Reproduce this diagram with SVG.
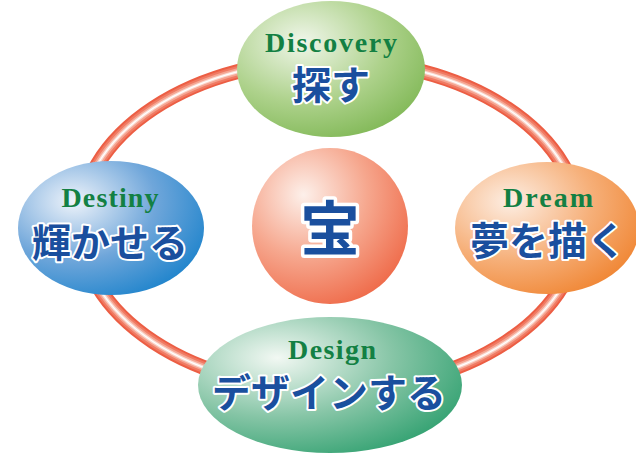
<svg xmlns="http://www.w3.org/2000/svg" width="636" height="455" viewBox="0 0 636 455">
<defs>
<radialGradient id="gGreen" cx="0.35" cy="0.3" r="0.8" fx="0.35" fy="0.3"><stop offset="0" stop-color="#f0f6ea"/><stop offset="0.55" stop-color="#aed28c"/><stop offset="1" stop-color="#7db652"/></radialGradient>
<radialGradient id="gBlue" cx="0.3" cy="0.3" r="0.8" fx="0.3" fy="0.3"><stop offset="0" stop-color="#eef3fa"/><stop offset="0.55" stop-color="#6fa6da"/><stop offset="1" stop-color="#1f84cc"/></radialGradient>
<radialGradient id="gOrange" cx="0.3" cy="0.3" r="0.8" fx="0.3" fy="0.3"><stop offset="0" stop-color="#fdeee3"/><stop offset="0.55" stop-color="#f6b07a"/><stop offset="1" stop-color="#f08634"/></radialGradient>
<radialGradient id="gTeal" cx="0.3" cy="0.3" r="0.8" fx="0.3" fy="0.3"><stop offset="0" stop-color="#f2f8f3"/><stop offset="0.55" stop-color="#86c5a6"/><stop offset="1" stop-color="#34a272"/></radialGradient>
<radialGradient id="gRed" cx="0.35" cy="0.3" r="0.8" fx="0.33" fy="0.3"><stop offset="0" stop-color="#fdf0ea"/><stop offset="0.5" stop-color="#f6a78e"/><stop offset="1" stop-color="#ee6442"/></radialGradient>
</defs>
<style>
.en{font-family:"Liberation Serif","Times New Roman",serif;font-weight:700;font-size:28px;fill:#138043;text-anchor:middle}
.jp{font-family:"Noto Sans CJK JP","Noto Sans",sans-serif;font-weight:700;font-size:39px;fill:#1a4f9e;stroke:#ffffff;stroke-width:4px;stroke-linejoin:round;paint-order:stroke;text-anchor:middle}
.ring{fill:none}
</style>
<g id="connectors">
<ellipse class="ring" cx="330" cy="225" rx="250" ry="165" stroke="#ec5e44" stroke-width="15"/>
<ellipse class="ring" cx="330" cy="225" rx="250" ry="165" stroke="#f07a63" stroke-width="11"/>
<ellipse class="ring" cx="330" cy="225" rx="250" ry="165" stroke="#f5a592" stroke-width="7"/>
<ellipse class="ring" cx="330" cy="225" rx="250" ry="165" stroke="#fbdcd3" stroke-width="3.5"/>
<ellipse class="ring" cx="330" cy="225" rx="250" ry="165" stroke="#ffffff" stroke-width="1.2"/>
</g>
<g id="treasure">
<circle cx="330" cy="226" r="78" fill="url(#gRed)"/>
<text class="jp" x="330" y="251" style="font-size:60px;stroke-width:7px">宝</text>
</g>
<g id="discovery">
<ellipse cx="331" cy="69" rx="94" ry="68" fill="url(#gGreen)"/>
<text class="en" x="331" y="52" textLength="132" lengthAdjust="spacing">Discovery</text>
<text class="jp" x="331" y="99">探す</text>
</g>
<g id="destiny">
<ellipse cx="111" cy="228" rx="93" ry="67" fill="url(#gBlue)"/>
<text class="en" x="110" y="207" textLength="97" lengthAdjust="spacing">Destiny</text>
<text class="jp" x="110" y="257">輝かせる</text>
</g>
<g id="dream">
<ellipse cx="547" cy="228" rx="92" ry="66" fill="url(#gOrange)"/>
<text class="en" x="548" y="207" textLength="90" lengthAdjust="spacing">Dream</text>
<text class="jp" x="548" y="255">夢を描く</text>
</g>
<g id="design">
<ellipse cx="330" cy="385" rx="132" ry="68" fill="url(#gTeal)"/>
<text class="en" x="332" y="359" textLength="88" lengthAdjust="spacing">Design</text>
<text class="jp" x="329" y="407">デザインする</text>
</g>
</svg>
